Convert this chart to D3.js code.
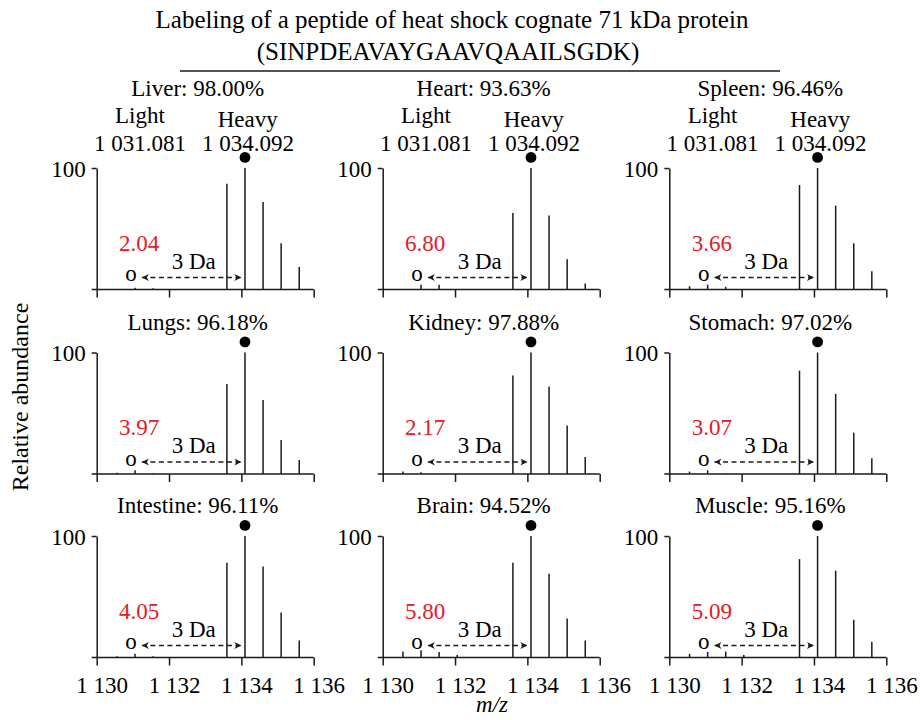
<!DOCTYPE html>
<html>
<head>
<meta charset="utf-8">
<script src="https://cdn.jsdelivr.net/npm/d3@7"></script>
<style>
  body { margin: 0; background: white; }
  text { font-family: "Liberation Serif", "Times New Roman", serif; }
</style>
</head>
<body>
<div id="chart"></div>
<script>
// Panels, read left to right, top to bottom
const tissues = ["Liver", "Heart", "Spleen", "Lungs", "Kidney", "Stomach", "Intestine", "Brain", "Muscle"];
const labeling = ["98.00", "93.63", "96.46", "96.18", "97.88", "97.02", "96.11", "94.52", "95.16"];
const lightPct = ["2.04", "6.80", "3.66", "3.97", "2.17", "3.07", "4.05", "5.80", "5.09"];

// m/z of every stick (4 light isotopes, 5 heavy isotopes)
const peakMz = [1130.56, 1131.06, 1131.56, 1132.06, 1133.6, 1134.1, 1134.6, 1135.1, 1135.6];

// Relative abundance of each stick, per tissue
const liver     = [0.5, 1.5, 1, 0, 87, 100, 72, 38, 18.5];
const heart     = [0, 4, 4, 0, 63, 100, 61, 25, 5];
const spleen    = [2.7, 4, 2.2, 0, 86, 100, 69, 38, 15];
const lungs     = [1, 3, 0.5, 0, 74, 100, 61, 28, 11.5];
const kidney    = [2, 1.5, 0, 0, 81, 100, 72, 40, 14];
const stomach   = [2, 3, 0.5, 0, 85, 100, 66, 34, 13];
const intestine = [1, 3, 1, 0, 78, 100, 75, 37, 14];
const brain     = [5, 6, 4.6, 2, 78, 100, 69, 32, 14];
const muscle    = [3, 4.6, 4.9, 2, 81, 100, 71.5, 31, 13];
const intensities = [liver, heart, spleen, lungs, kidney, stomach, intestine, brain, muscle];

const xTicks = [1130, 1132, 1134, 1136];
const yTicks = [100];
const lightMz = 1130.95;   // "o" marker
const heavyMz = 1134.1;    // filled dot
const arrowFrom = 1131.25, arrowTo = 1134.0;

const red = "#dd2027";
const ink = "#1a1a1a";

const width = 920, height = 720;
const pw = 217, ph = 121.5;       // plot size of one panel
const colX = [96.7, 382.7, 669.3];
const rowBase = [289.5, 474, 657.5];

const svg = d3.select("#chart").append("svg")
    .attr("width", width).attr("height", height);

const x = d3.scaleLinear().domain([1130, 1136]).range([0, pw]);
const y = d3.scaleLinear().domain([0, 100]).range([ph, 0]);

const fmt = d3.formatLocale({ decimal: ".", thousands: " ", grouping: [3], currency: ["", ""] }).format(",");

// Marker for both ends of the 3 Da arrow
const defs = svg.append("defs");
defs.append("marker").attr("id", "head").attr("viewBox", "0 0 10 10")
    .attr("refX", 10).attr("refY", 5).attr("markerWidth", 10).attr("markerHeight", 7)
    .attr("markerUnits", "userSpaceOnUse").attr("orient", "auto-start-reverse")
    .append("path").attr("d", "M0,0 L10,5 L0,10 L3,5 Z").attr("fill", ink);

// Main title
svg.append("text").attr("x", 452).attr("y", 28).attr("text-anchor", "middle")
    .attr("font-size", 25).text("Labeling of a peptide of heat shock cognate 71 kDa protein");
svg.append("text").attr("x", 448).attr("y", 60).attr("text-anchor", "middle")
    .attr("font-size", 25).text("(SINPDEAVAYGAAVQAAILSGDK)");
svg.append("line").attr("x1", 180).attr("x2", 780).attr("y1", 71).attr("y2", 71)
    .attr("stroke", ink).attr("stroke-width", 1.5);

// Axis titles
svg.append("text").attr("transform", "translate(28,397) rotate(-90)")
    .attr("text-anchor", "middle").attr("font-size", 24).text("Relative abundance");
svg.append("text").attr("x", 492).attr("y", 712).attr("text-anchor", "middle")
    .attr("font-size", 23).attr("font-style", "italic").text("m/z");

tissues.forEach((name, i) => {
    const col = i % 3, row = Math.floor(i / 3);
    const g = svg.append("g")
        .attr("transform", "translate(" + colX[col] + "," + (rowBase[row] - ph) + ")");

    // y axis (only the 100 tick)
    const ya = g.append("g").call(d3.axisLeft(y).tickValues(yTicks).tickSize(5).tickSizeOuter(0));
    ya.select(".domain").attr("stroke", ink).attr("stroke-width", 1.5);
    ya.selectAll(".tick line").attr("stroke", ink).attr("stroke-width", 1.5);
    ya.selectAll(".tick text").attr("font-size", 23).attr("fill", "black")
        .attr("font-family", "Liberation Serif, serif").attr("x", -11).attr("dy", "0.35em");

    // x axis
    const xa = g.append("g").attr("transform", "translate(0," + ph + ")")
        .call(d3.axisBottom(x).tickValues(xTicks).tickSize(8).tickSizeOuter(0).tickFormat(fmt));
    xa.select(".domain").remove();
    xa.append("line").attr("x1", -5).attr("x2", pw).attr("stroke", ink).attr("stroke-width", 1.5);
    xa.selectAll(".tick line").attr("stroke", ink).attr("stroke-width", 1.5);
    xa.selectAll(".tick text").attr("font-size", 23).attr("fill", "black")
        .attr("font-family", "Liberation Serif, serif").attr("y", 35).attr("dy", 0).attr("dx", 5)
        .style("display", row === 2 ? null : "none");

    // sticks
    g.selectAll("line.peak").data(intensities[i].map((v, k) => ({ mz: peakMz[k], v: v })))
        .enter().append("line").attr("class", "peak")
        .attr("x1", d => x(d.mz)).attr("x2", d => x(d.mz))
        .attr("y1", y(0)).attr("y2", d => y(d.v))
        .attr("stroke", ink).attr("stroke-width", 1.5);

    // filled dot above the heavy monoisotopic peak
    g.append("circle").attr("cx", x(heavyMz)).attr("cy", y(100) - 10.6).attr("r", 5.4).attr("fill", "black");

    // panel title
    g.append("text").attr("x", 101).attr("y", y(100) - (row === 0 ? 71.6 : 23))
        .attr("text-anchor", "middle").attr("font-size", 23)
        .text(name + ": " + labeling[i] + "%");

    if (row === 0) {
        g.append("text").attr("x", 43.3).attr("y", y(100) - 45.3).attr("text-anchor", "middle")
            .attr("font-size", 23).text("Light");
        g.append("text").attr("x", 151).attr("y", y(100) - 41.3).attr("text-anchor", "middle")
            .attr("font-size", 23).text("Heavy");
        g.append("text").attr("x", 43.3).attr("y", y(100) - 16.6).attr("text-anchor", "middle")
            .attr("font-size", 23).text("1 031.081");
        g.append("text").attr("x", 151.3).attr("y", y(100) - 16.6).attr("text-anchor", "middle")
            .attr("font-size", 23).text("1 034.092");
    }

    // light percentage, "o" marker, 3 Da arrow
    g.append("text").attr("x", 42.5).attr("y", ph - 39).attr("text-anchor", "middle")
        .attr("font-size", 23).attr("fill", red).text(lightPct[i]);
    g.append("text").attr("x", x(lightMz)).attr("y", ph - 8.3).attr("text-anchor", "middle")
        .attr("font-size", 23).text("o");
    g.append("line").attr("x1", x(arrowFrom)).attr("x2", x(arrowTo))
        .attr("y1", ph - 12).attr("y2", ph - 12)
        .attr("stroke", ink).attr("stroke-width", 1.5).attr("stroke-dasharray", "5,3.5")
        .attr("marker-start", "url(#head)").attr("marker-end", "url(#head)");
    g.append("text").attr("x", 97).attr("y", ph - 21).attr("text-anchor", "middle")
        .attr("font-size", 23).text("3 Da");
});
</script>
</body>
</html>
